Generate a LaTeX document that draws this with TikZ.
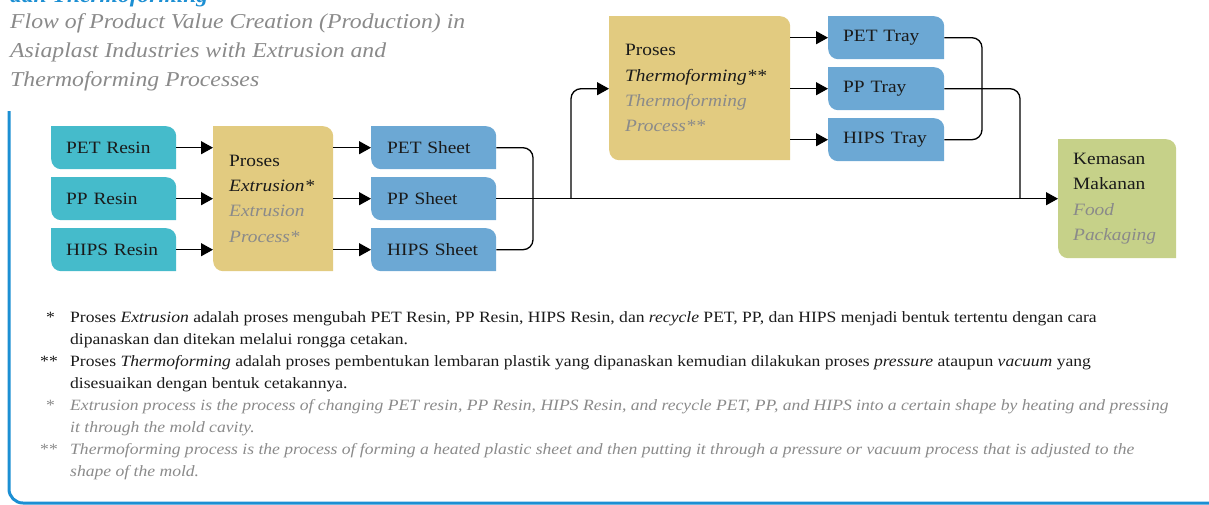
\documentclass[tikz,border=0pt]{standalone}
\usepackage{fontspec}
\setmainfont{Liberation Serif}[FakeStretch=1.12]
\usetikzlibrary{arrows.meta,calc}
\definecolor{resin}{HTML}{45BBCB}
\definecolor{proc}{HTML}{E2CB80}
\definecolor{sheet}{HTML}{6CA8D4}
\definecolor{food}{HTML}{C6D189}
\definecolor{gtext}{HTML}{8A8A8A}
\definecolor{frame}{HTML}{1C8FD3}
\definecolor{ink}{HTML}{1A1A1A}
\newcommand\en[1]{{\color{gtext}\itshape #1}}
\tikzset{
  tagbox/.style={path picture={\fill[#1] let \p1=(path picture bounding box.north west), \p2=(path picture bounding box.south east) in
      (\x1,\y1) -- (\x2-10pt,\y1) arc[start angle=90,end angle=0,radius=10pt] -- (\x2,\y2) -- (\x1+10pt,\y2) arc[start angle=270,end angle=180,radius=10pt] -- cycle;}},
  item/.style={tagbox=#1, anchor=north west, inner xsep=15pt, inner ysep=0pt, align=left, text=ink,
      font=\fontsize{17.3}{25.3}\selectfont},
  conn/.style={line width=1.3pt, draw=black, rounded corners=10pt},
  arr/.style={conn, -{Triangle[length=12pt,width=13pt]}},
  fn/.style={anchor=base west, inner sep=0pt, text=ink, font=\fontsize{15.7}{22}\selectfont},
  fnstar/.style={anchor=base east, inner sep=0pt, text=ink, font=\fontsize{15.7}{22}\selectfont},
  fnen/.style={fn, text=gtext, font=\fontsize{15.7}{22}\selectfont\itshape},
  ttl/.style={anchor=base west, inner sep=0pt, text=gtext, font=\fontsize{21.2}{29}\selectfont\itshape},
}
\begin{document}
\begin{tikzpicture}[x=1pt,y=-1pt]
\useasboundingbox (0,0) rectangle (1209,504);
% frame
\draw[frame, line width=3pt, rounded corners=14pt] (9,111) -- (9,503) -- (1209,503);
% titles
\node[anchor=base west, inner sep=0pt, text=frame, font=\fontsize{21}{29}\selectfont\bfseries\itshape] (t0) at (10,2) {dan Thermoforming};
\node[ttl] (t1) at (10,28) {Flow of Product Value Creation (Production) in};
\node[ttl] (t2) at (10,57) {Asiaplast Industries with Extrusion and};
\node[ttl] (t3) at (10,86) {Thermoforming Processes};

% resins
\node[item=resin, text width=95pt, minimum height=43pt] (petr) at (51,126) {PET Resin};
\node[item=resin, text width=95pt, minimum height=43pt] (ppr) at (51,177) {PP Resin};
\node[item=resin, text width=95pt, minimum height=43pt] (hipsr) at (51,228) {HIPS Resin};
% extrusion
\node[item=proc, inner xsep=16pt, text width=88pt, minimum height=145pt] (extr) at (213,126)
  {Proses\\\textit{Extrusion*}\\\en{Extrusion}\\\en{Process*}};
% sheets
\node[item=sheet, inner xsep=16pt, text width=93pt, minimum height=43pt] (pets) at (371,126) {PET Sheet};
\node[item=sheet, inner xsep=16pt, text width=93pt, minimum height=43pt] (pps) at (371,177) {PP Sheet};
\node[item=sheet, inner xsep=16pt, text width=93pt, minimum height=43pt] (hipss) at (371,228) {HIPS Sheet};
% thermoforming
\node[item=proc, inner xsep=16pt, text width=149pt, minimum height=144pt] (thermo) at (609,16)
  {Proses\\\textit{Thermoforming**}\\\en{Thermoforming}\\\en{Process**}};
% trays
\node[item=sheet, text width=86pt, minimum height=43pt] (pett) at (828,16) {PET Tray};
\node[item=sheet, text width=86pt, minimum height=43pt] (ppt) at (828,67) {PP Tray};
\node[item=sheet, text width=86pt, minimum height=43pt] (hipst) at (828,118) {HIPS Tray};
% food packaging
\node[item=food, text width=88pt, minimum height=119pt] (food) at (1058,139)
  {Kemasan\\Makanan\\\en{Food}\\\en{Packaging}};

% junction coordinates
\coordinate (sx) at (533,0);
\coordinate (bx) at (571,0);
\coordinate (tx) at (982,0);
\coordinate (fx) at (1020,0);

% connectors
\draw[arr] (petr.east) -- (petr.east -| extr.west);
\draw[arr] (ppr.east) -- (ppr.east -| extr.west);
\draw[arr] (hipsr.east) -- (hipsr.east -| extr.west);
\draw[arr] (extr.east |- pets.east) -- (pets.west);
\draw[arr] (extr.east |- pps.east) -- (pps.west);
\draw[arr] (extr.east |- hipss.east) -- (hipss.west);
\draw[conn] (pets.east) -| (sx |- pps.east);
\draw[conn] (hipss.east) -| (sx |- pps.east);
\draw[arr] (pps.east) -- (pps.east -| food.west);
\draw[arr] (bx |- pps.east) |- (thermo.west |- ppt.west);
\draw[arr] (thermo.east |- pett.west) -- (pett.west);
\draw[arr] (thermo.east |- ppt.west) -- (ppt.west);
\draw[arr] (thermo.east |- hipst.west) -- (hipst.west);
\draw[conn] (pett.east) -| (tx |- ppt.east);
\draw[conn] (hipst.east) -| (tx |- ppt.east);
\draw[conn] (ppt.east) -| (fx |- pps.east);

% footnotes
\node[fnstar] (s1) at (55,322) {*};
\node[fn] (f1) at (70,322) {Proses \textit{Extrusion} adalah proses mengubah PET Resin, PP Resin, HIPS Resin, dan \textit{recycle} PET, PP, dan HIPS menjadi bentuk tertentu dengan cara};
\node[fn] (f2) at (70,344) {dipanaskan dan ditekan melalui rongga cetakan.};
\node[fnstar] (s2) at (58,366) {**};
\node[fn] (f3) at (70,366) {Proses \textit{Thermoforming} adalah proses pembentukan lembaran plastik yang dipanaskan kemudian dilakukan proses \textit{pressure} ataupun \textit{vacuum} yang};
\node[fn] (f4) at (70,388) {disesuaikan dengan bentuk cetakannya.};
\node[fnstar, text=gtext] (s3) at (55,410) {*};
\node[fnen] (f5) at (70,410) {Extrusion process is the process of changing PET resin, PP Resin, HIPS Resin, and recycle PET, PP, and HIPS into a certain shape by heating and pressing};
\node[fnen] (f6) at (70,432) {it through the mold cavity.};
\node[fnstar, text=gtext] (s4) at (58,454) {**};
\node[fnen] (f7) at (70,454) {Thermoforming process is the process of forming a heated plastic sheet and then putting it through a pressure or vacuum process that is adjusted to the};
\node[fnen] (f8) at (70,476) {shape of the mold.};
\end{tikzpicture}
\end{document}
